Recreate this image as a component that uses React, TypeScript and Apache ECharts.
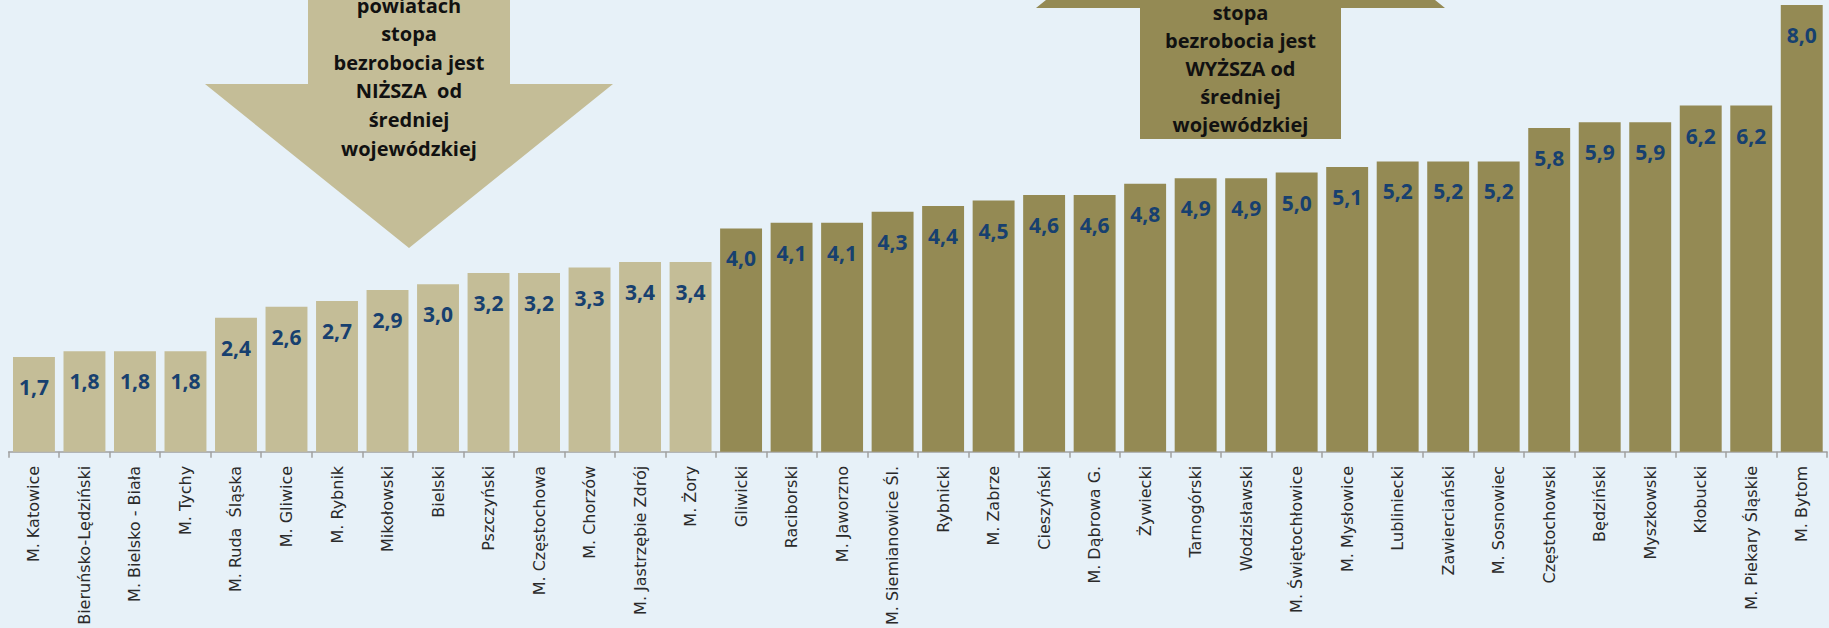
import React, { useEffect, useRef } from "react";
import * as echarts from "echarts";

const categories: string[] = [
  "M. Katowice",
  "Bieruńsko-Lędziński",
  "M. Bielsko - Biała",
  "M. Tychy",
  "M. Ruda  Śląska",
  "M. Gliwice",
  "M. Rybnik",
  "Mikołowski",
  "Bielski",
  "Pszczyński",
  "M. Częstochowa",
  "M. Chorzów",
  "M. Jastrzębie Zdrój",
  "M. Żory",
  "Gliwicki",
  "Raciborski",
  "M. Jaworzno",
  "M. Siemianowice Śl.",
  "Rybnicki",
  "M. Zabrze",
  "Cieszyński",
  "M. Dąbrowa G.",
  "Żywiecki",
  "Tarnogórski",
  "Wodzisławski",
  "M. Świętochłowice",
  "M. Mysłowice",
  "Lubliniecki",
  "Zawierciański",
  "M. Sosnowiec",
  "Częstochowski",
  "Będziński",
  "Myszkowski",
  "Kłobucki",
  "M. Piekary Śląskie",
  "M. Bytom",
];

const values: number[] = [
  1.7, 1.8, 1.8, 1.8, 2.4, 2.6, 2.7, 2.9, 3.0, 3.2, 3.2, 3.3, 3.4, 3.4,
  4.0, 4.1, 4.1, 4.3, 4.4, 4.5, 4.6, 4.6, 4.8, 4.9, 4.9, 5.0, 5.1, 5.2,
  5.2, 5.2, 5.8, 5.9, 5.9, 6.2, 6.2, 8.0,
];

// true = below the voivodeship average (light bars)
const belowAverage: boolean[] = values.map((_, i) => i < 14);

const lowerArrowLines: string[] = [
  "powiatach",
  "stopa",
  "bezrobocia jest",
  "NIŻSZA  od",
  "średniej",
  "wojewódzkiej",
];
const higherArrowLines: string[] = [
  "stopa",
  "bezrobocia jest",
  "WYŻSZA od",
  "średniej",
  "wojewódzkiej",
];

const LIGHT = "#C4BD97";
const DARK = "#948A54";
const LABEL_BLUE = "#17406F";

export default function App() {
  const ref = useRef<HTMLDivElement>(null);

  useEffect(() => {
    if (!ref.current) return;
    const chart = echarts.init(ref.current, undefined, { renderer: "svg" });

    const textFont = 'bold 20px "Open Sans"';
    const arrowText = (lines: string[], cx: number, firstY: number, step: number) =>
      lines.map((t, i) => ({
        type: "text",
        z: 10,
        style: {
          text: t,
          x: cx,
          y: firstY + i * step,
          font: textFont,
          fill: "#111111",
          textAlign: "center",
          textVerticalAlign: "middle",
          align: "center",
          verticalAlign: "middle",
        },
      }));

    chart.setOption({
      animation: false,
      backgroundColor: "#E7F1F8",
      grid: { left: 8.7, right: 2, top: 5, bottom: 175, containLabel: false },
      xAxis: {
        type: "category",
        data: categories,
        boundaryGap: true,
        axisLine: { show: true, lineStyle: { color: "#A0A0A0", width: 1.5 } },
        axisTick: { show: true, length: 6, lineStyle: { color: "#A0A0A0", width: 1.5 } },
        axisLabel: {
          rotate: 90,
          margin: 14,
          interval: 0,
          fontFamily: "DejaVu Sans",
          fontSize: 16,
          color: "#2A2A2A",
        },
      },
      yAxis: {
        type: "value",
        min: 0,
        max: 8,
        show: false,
        splitLine: { show: false },
      },
      series: [
        {
          type: "bar",
          barCategoryGap: "17%",
          data: values.map((v, i) => ({
            value: v,
            itemStyle: { color: belowAverage[i] ? LIGHT : DARK },
          })),
          label: {
            show: true,
            position: "insideTop",
            distance: 18,
            fontFamily: "Open Sans",
            fontWeight: "bold",
            fontSize: 21,
            lineHeight: 24,
            color: LABEL_BLUE,
            formatter: (p: any) => Number(p.value).toFixed(1).replace(".", ","),
          },
        },
      ],
      graphic: [
        {
          type: "polygon",
          z: 5,
          shape: {
            points: [
              [308, -40],
              [510, -40],
              [510, 84],
              [613, 84],
              [409, 248],
              [205, 84],
              [308, 84],
            ],
          },
          style: { fill: LIGHT },
        },
        {
          type: "polygon",
          z: 5,
          shape: {
            points: [
              [1140, 139],
              [1341, 139],
              [1341, 8],
              [1445, 8],
              [1240.5, -156],
              [1036, 8],
              [1140, 8],
            ],
          },
          style: { fill: DARK },
        },
        ...arrowText(lowerArrowLines, 409, 5, 28.6),
        ...arrowText(higherArrowLines, 1240.5, 12, 28),
      ],
    });

    return () => chart.dispose();
  }, []);

  return (
    <div
      ref={ref}
      style={{ position: "fixed", left: 0, top: 0, width: 1829, height: 628 }}
    />
  );
}
